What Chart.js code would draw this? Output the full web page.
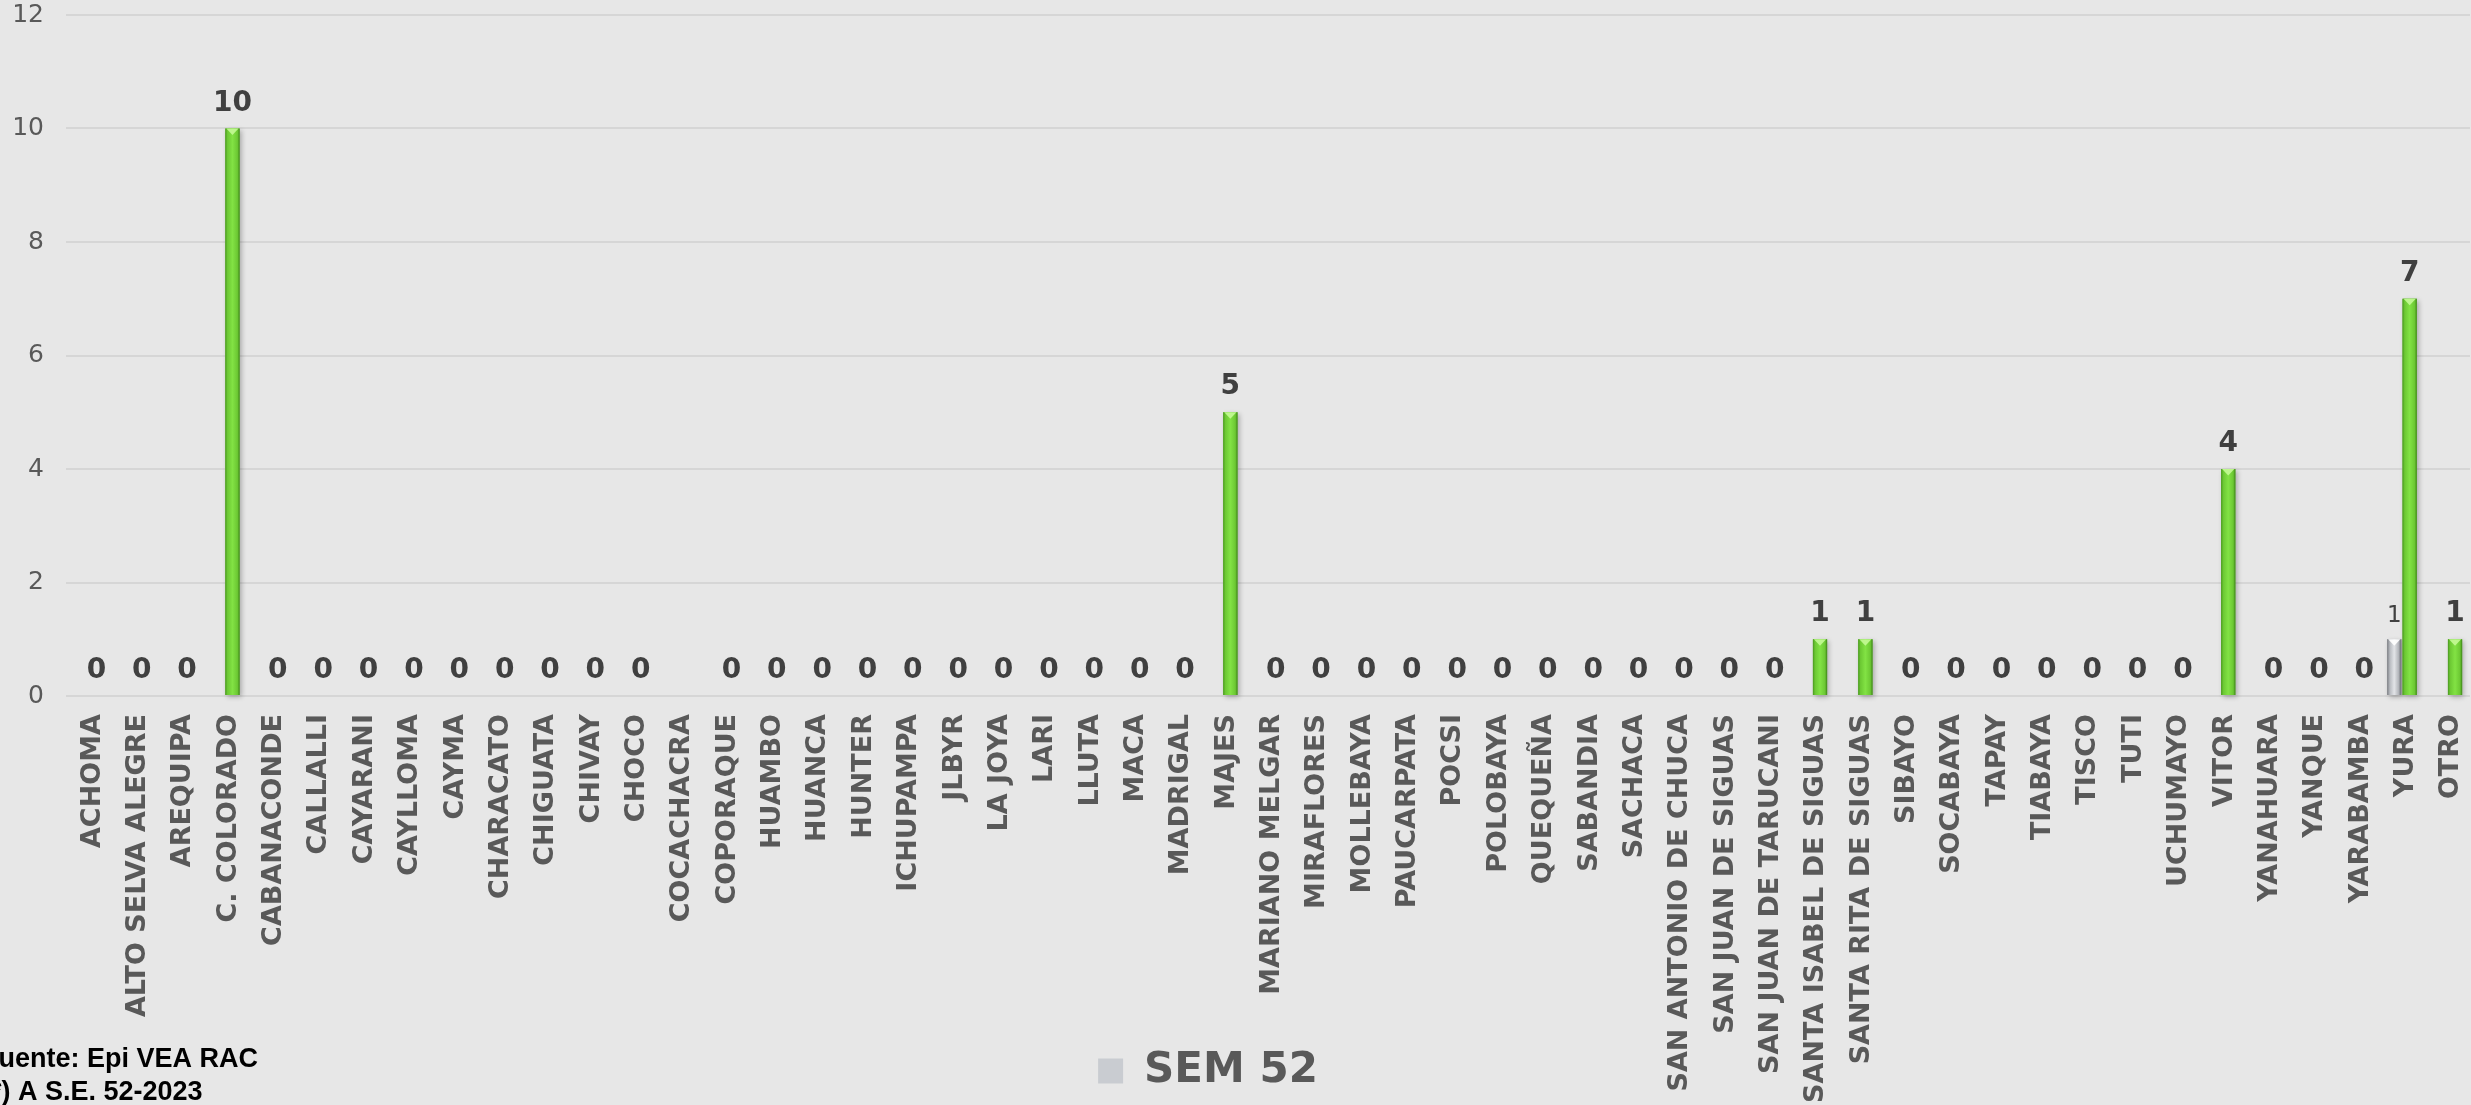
<!DOCTYPE html>
<html><head><meta charset="utf-8">
<script src="https://cdn.jsdelivr.net/npm/chart.js@4.4.0/dist/chart.umd.min.js"></script>
<style>
html,body{margin:0;padding:0;background:#e7e7e7;overflow:hidden;width:2471px;height:1105px;}
#wrap{position:absolute;left:-54px;top:0;width:2525px;height:1105px;}
canvas{display:block;}
</style></head><body>
<div id="wrap"><canvas id="c" width="2525" height="1105"></canvas></div>
<script>
const categories = ['ACHOMA','ALTO SELVA ALEGRE','AREQUIPA','C. COLORADO','CABANACONDE','CALLALLI','CAYARANI','CAYLLOMA','CAYMA','CHARACATO','CHIGUATA','CHIVAY','CHOCO','COCACHACRA','COPORAQUE','HUAMBO','HUANCA','HUNTER','ICHUPAMPA','JLBYR','LA JOYA','LARI','LLUTA','MACA','MADRIGAL','MAJES','MARIANO MELGAR','MIRAFLORES','MOLLEBAYA','PAUCARPATA','POCSI','POLOBAYA','QUEQUEÑA','SABANDIA','SACHACA','SAN ANTONIO DE CHUCA','SAN JUAN DE SIGUAS','SAN JUAN DE TARUCANI','SANTA ISABEL DE SIGUAS','SANTA RITA DE SIGUAS','SIBAYO','SOCABAYA','TAPAY','TIABAYA','TISCO','TUTI','UCHUMAYO','VITOR','YANAHUARA','YANQUE','YARABAMBA','YURA','OTRO'];
// grey series (legend "SEM 52")
const semValues = [null,null,null,null,null,null,null,null,null,null,null,null,null,null,null,null,null,null,null,null,null,null,null,null,null,null,null,null,null,null,null,null,null,null,null,null,null,null,null,null,null,null,null,null,null,null,null,null,null,null,null,1,null];
// green series
const greenValues = [0,0,0,10,0,0,0,0,0,0,0,0,0,null,0,0,0,0,0,0,0,0,0,0,0,5,0,0,0,0,0,0,0,0,0,0,0,0,1,1,0,0,0,0,0,0,0,4,0,0,0,7,1];
const legendLabel = 'SEM 52';
const yMin = 0, yMax = 12, yStep = 2;
const footnotes = ['Fuente: Epi VEA RAC', '(*) A S.E. 52-2023'];

const palettes = [
  {stops:[[0,'#7a7d82'],[0.2,'#b9bcc1'],[0.5,'#e2e4e7'],[0.8,'#b3b6bb'],[1,'#66696e']], cap:'rgba(255,255,255,0.92)'},
  {stops:[[0,'#4a9720'],[0.15,'#6cc833'],[0.5,'#82e244'],[0.85,'#6cc833'],[1,'#3e8618']], cap:'rgba(196,250,150,0.9)'}
];

const barShade = {
  id:'barShade',
  beforeDatasetsDraw(chart){
    const ctx = chart.ctx;
    chart.data.datasets.forEach((ds, di) => {
      const meta = chart.getDatasetMeta(di);
      meta.data.forEach((bar, i) => {
        const v = ds.data[i];
        if (v == null || v === 0) return;
        const p = bar.getProps(['x','y','base','width'], true);
        ctx.save();
        ctx.shadowColor = 'rgba(0,0,0,0.28)';
        ctx.shadowBlur = 5; ctx.shadowOffsetX = 2; ctx.shadowOffsetY = 2;
        ctx.fillStyle = '#888';
        ctx.fillRect(p.x - p.width/2, p.y, p.width, p.base - p.y);
        ctx.restore();
      });
    });
  },
  afterDatasetsDraw(chart){
    const ctx = chart.ctx;
    chart.data.datasets.forEach((ds, di) => {
      const meta = chart.getDatasetMeta(di);
      const pal = palettes[di];
      meta.data.forEach((bar, i) => {
        const v = ds.data[i];
        if (v == null || v === 0) return;
        const p = bar.getProps(['x','y','base','width'], true);
        const l = p.x - p.width/2, r = p.x + p.width/2;
        ctx.save();
        const g = ctx.createLinearGradient(l,0,r,0);
        pal.stops.forEach(s => g.addColorStop(s[0], s[1]));
        ctx.fillStyle = g;
        ctx.fillRect(l, p.y, p.width, p.base - p.y);
        ctx.fillStyle = pal.cap;
        ctx.beginPath();
        ctx.moveTo(l+1, p.y); ctx.lineTo(r-1, p.y); ctx.lineTo(p.x, p.y + p.width*0.45);
        ctx.closePath(); ctx.fill();
        ctx.restore();
      });
    });
  }
};

const valueLabels = {
  id:'valueLabels',
  afterDatasetsDraw(chart){
    const ctx = chart.ctx;
    ctx.save();
    ctx.textAlign = 'center';
    ctx.textBaseline = 'alphabetic';
    ctx.fillStyle = '#404040';
    chart.data.datasets.forEach((ds, di) => {
      const meta = chart.getDatasetMeta(di);
      meta.data.forEach((bar, i) => {
        const v = ds.data[i];
        if (v == null) return;
        const p = bar.getProps(['x','y'], true);
        if (di === 0) {
          if (v === 0) return;
          ctx.font = '23px "DejaVu Sans"';
          ctx.fillText(String(v), p.x, p.y - 17);
        } else {
          ctx.font = 'bold 28px "DejaVu Sans"';
          ctx.fillText(String(v), p.x, p.y - 18);
        }
      });
    });
    ctx.restore();
  }
};

const footer = {
  id:'footer',
  afterLayout(chart){
    // let the rotated category labels run to the canvas bottom (no clipping at the axis box)
    chart.scales.x.bottom = chart.height;
  },
  afterDraw(chart){
    const ctx = chart.ctx;
    ctx.save();
    ctx.fillStyle = '#000';
    ctx.font = 'bold 27px "Liberation Sans"';
    ctx.textAlign = 'left';
    ctx.textBaseline = 'alphabetic';
    ctx.fillText(footnotes[0], 36, 1067);
    ctx.fillText(footnotes[1], 36, 1100);
    ctx.restore();
  }
};

new Chart(document.getElementById('c'), {
  type:'bar',
  data:{
    labels: categories,
    datasets:[
      {label: legendLabel, data: semValues, backgroundColor:'#c9ccd1', borderWidth:0, categoryPercentage:0.68, barPercentage:0.92},
      {label: '', data: greenValues, backgroundColor:'#72d636', borderWidth:0, categoryPercentage:0.68, barPercentage:0.92}
    ]
  },
  options:{
    responsive:false,
    animation:false,
    devicePixelRatio:1,
    layout:{padding:{left:0,right:1,top:0,bottom:3}},
    plugins:{
      tooltip:{enabled:false},
      legend:{
        position:'bottom',
        labels:{
          font:{family:'DejaVu Sans', size:42, weight:'bold'},
          color:'#595959',
          boxWidth:25, boxHeight:25, padding:10,
          filter: item => item.text !== ''
        }
      }
    },
    scales:{
      x:{
        grid:{display:false, drawTicks:false},
        border:{display:false},
        ticks:{
          autoSkip:false, maxRotation:90, minRotation:90, padding:18, labelOffset:4,
          font:{family:'DejaVu Sans', size:27, weight:'bold'}, color:'#595959'
        },
        afterFit(scale){ scale.height = 344; scale.paddingLeft = 0; scale.paddingRight = 0; }
      },
      y:{
        min:yMin, max:yMax,
        grid:{color:'#d6d6d6', lineWidth:2, drawTicks:false},
        border:{display:false},
        ticks:{stepSize:yStep, padding:22, font:{family:'DejaVu Sans', size:25}, color:'#595959'},
        afterFit(scale){ scale.width = 120; scale.paddingTop = 15; scale.paddingBottom = 0; }
      }
    }
  },
  plugins:[barShade, valueLabels, footer]
});
</script>
</body></html>
